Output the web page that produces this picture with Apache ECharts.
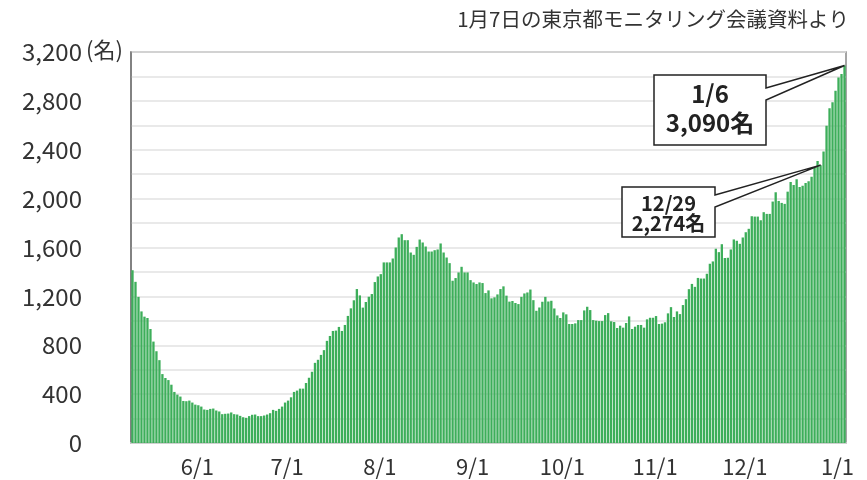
<!DOCTYPE html>
<html>
<head>
<meta charset="utf-8">
<script src="https://cdn.jsdelivr.net/npm/echarts@6/dist/echarts.min.js"></script>
<style>
  html, body { margin: 0; padding: 0; background: #fff; }
  #chart { width: 867px; height: 480px; }
</style>
</head>
<body>
<div id="chart"></div>
<script>
// 東京都 入院患者数（日別）, 2020/5/13 〜 2021/1/6
const startDay = [2020, 4, 13]
const patients = [
  1414, 1319, 1196, 1077, 1034, 1023, 933, 830, 751, 678,
  564, 532, 515, 477, 418, 396, 380, 344, 342, 347,
  331, 314, 309, 298, 274, 271, 279, 282, 266, 258,
  236, 239, 241, 250, 236, 233, 222, 211, 206, 220,
  231, 233, 220, 220, 225, 233, 244, 271, 263, 279,
  298, 331, 347, 374, 418, 429, 445, 445, 491, 534,
  583, 656, 681,
  721, 760, 836, 876, 917, 920, 950, 917, 966, 1040,
  1102, 1168, 1260, 1208, 1108, 1154, 1197, 1219, 1317, 1363,
  1382, 1478, 1478, 1478, 1510, 1600, 1682, 1709, 1660, 1660,
  1559, 1540, 1605, 1665, 1641, 1608, 1567, 1567, 1578, 1584,
  1633, 1559, 1518, 1472, 1328, 1350, 1396, 1442, 1396, 1396,
  1333, 1314, 1301, 1314, 1309, 1227, 1249, 1184, 1192, 1216,
  1260, 1282, 1206, 1157, 1162, 1146,
  1137, 1196, 1224, 1232, 1256, 1169, 1082, 1109, 1156, 1196,
  1158, 1164, 1101, 1044, 1023, 1069, 1053, 974, 974, 979,
  1006, 1006, 1085, 1115, 1088, 1006, 1001, 998, 998, 1047,
  1063, 996, 990, 941, 960, 944, 982, 1036, 933, 952,
  966, 966, 944, 1012, 1025, 1025, 1039, 974, 977, 988,
  1061, 1112, 1031, 1077, 1055, 1129, 1177, 1259, 1302, 1278,
  1351, 1346, 1346,
  1385, 1467, 1486, 1590, 1562, 1627, 1514, 1516, 1584, 1666,
  1655, 1630, 1682, 1725, 1753, 1856, 1853, 1853, 1823, 1889,
  1875, 1875, 1976, 2052, 1981, 1965, 1957, 2057, 2136, 2111,
  2158, 2095, 2106, 2128, 2142, 2180, 2253, 2308,
  2274, 2385, 2597, 2739, 2788, 2883, 2992, 3019, 3090
]
const dates = []
for (let i = 0; i < patients.length; i++) {
  const d = new Date(Date.UTC(startDay[0], startDay[1], startDay[2] + i))
  dates.push((d.getUTCMonth() + 1) + '/' + d.getUTCDate())
}
const sourceNote = '1月7日の東京都モニタリング会議資料より'
const unitLabel = '(名)'
const calloutDates = ['1/6', '12/29']

const font = '"Noto Sans CJK JP", "Noto Sans", sans-serif'
const fmt = v => v.toLocaleString('en-US')

const chart = echarts.init(document.getElementById('chart'))
chart.setOption({
  animation: false,
  backgroundColor: '#fff',
  grid: {
    left: 131, right: 21, top: 52, bottom: 37,
    show: true, borderColor: '#888', borderWidth: 1.5
  },
  xAxis: {
    type: 'category',
    data: dates,
    boundaryGap: true,
    axisLine: { show: true, lineStyle: { color: '#d0d0d0', width: 2 } },
    axisTick: { show: false },
    axisLabel: {
      interval: (i, v) => v.endsWith('/1'),
      color: '#333', fontSize: 22, fontFamily: font,
      margin: 13, padding: [0, 0, 0, 16]
    },
    splitLine: { show: false }
  },
  yAxis: {
    type: 'value',
    min: 0, max: 3200, interval: 200,
    axisLine: { show: true, lineStyle: { color: '#777', width: 1.5 } },
    axisTick: { show: false },
    axisLabel: {
      formatter: v => (v % 400 === 0 ? fmt(v) : ''),
      color: '#333', fontSize: 24, fontFamily: font,
      margin: 49, padding: [0, 0, 6, 0]
    },
    splitLine: { lineStyle: { color: '#e2e2e2', width: 1.5 } }
  },
  series: [{
    type: 'bar',
    data: patients,
    barCategoryGap: '22%',
    itemStyle: { color: '#3dae5a' }
  }]
})

// callout boxes (position of box is layout; tip comes from the data)
const boxes = {
  '1/6': { rect: [654, 75, 766, 145], gap: [88, 100], size: 24, lines: [94, 123] },
  '12/29': { rect: [622, 187, 715, 237], gap: [195, 207], size: 20, lines: [203, 223] }
}
const graphic = [{
  type: 'text', right: 18, top: 9,
  style: { text: sourceNote, fontSize: 20.5, fontFamily: font, fill: '#333' }
}, {
  type: 'text', x: 86, y: 50,
  style: { text: unitLabel, fontSize: 22, fontFamily: font, fill: '#333', verticalAlign: 'middle' }
}]
calloutDates.forEach(day => {
  const idx = dates.indexOf(day)
  const tip = chart.convertToPixel({ seriesIndex: 0 }, [idx, patients[idx]])
  const b = boxes[day]
  const [x0, y0, x1, y1] = b.rect
  graphic.push({
    type: 'polygon', z: 100,
    shape: { points: [[x0, y0], [x1, y0], [x1, b.gap[0]], tip, [x1, b.gap[1]], [x1, y1], [x0, y1]] },
    style: { fill: '#fff', stroke: '#222', lineWidth: 1.5 }
  })
  const cx = (x0 + x1) / 2
  const texts = [day, fmt(patients[idx]) + '名']
  texts.forEach((t, k) => {
    graphic.push({
      type: 'text', z: 101, x: cx, y: b.lines[k],
      style: {
        text: t, fontSize: b.size, fontWeight: 'bold', fontFamily: font,
        fill: '#222', align: 'center', verticalAlign: 'middle'
      }
    })
  })
})
chart.setOption({ graphic: graphic })
</script>
</body>
</html>
